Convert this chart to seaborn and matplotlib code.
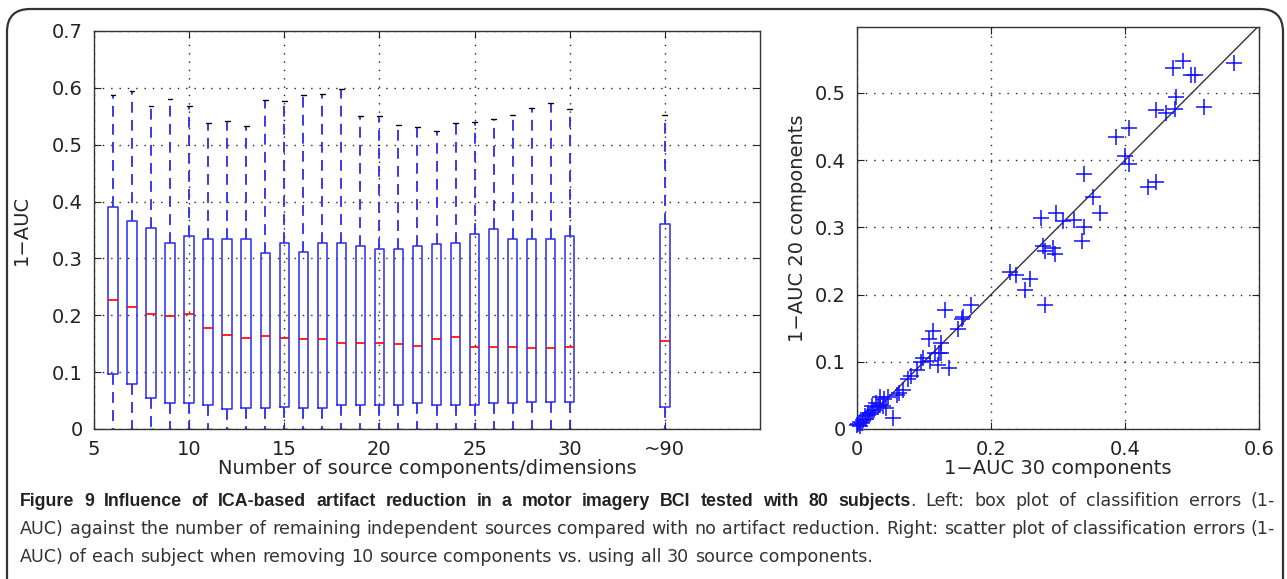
import matplotlib
matplotlib.use('Agg')
import matplotlib.pyplot as plt
import pandas as pd
import seaborn as sns
from matplotlib.patches import FancyBboxPatch

# Left: 1-AUC box stats per number of kept source components ("~90" = no artifact reduction)
components = ['6', '7', '8', '9', '10', '11', '12', '13', '14', '15', '16', '17', '18',
              '19', '20', '21', '22', '23', '24', '25', '26', '27', '28', '29', '30', '~90']
whisk_lo = [0.0] * 26
q1 = [0.096, 0.080, 0.054, 0.046, 0.045, 0.042, 0.036, 0.037, 0.037, 0.038, 0.037, 0.037, 0.042,
      0.042, 0.042, 0.042, 0.045, 0.042, 0.042, 0.042, 0.046, 0.046, 0.047, 0.047, 0.047, 0.038]
med = [0.227, 0.214, 0.203, 0.199, 0.203, 0.178, 0.166, 0.160, 0.164, 0.160, 0.158, 0.158, 0.151,
       0.151, 0.151, 0.149, 0.146, 0.158, 0.161, 0.145, 0.145, 0.145, 0.142, 0.142, 0.145, 0.154]
q3 = [0.391, 0.366, 0.353, 0.327, 0.339, 0.334, 0.334, 0.335, 0.309, 0.327, 0.312, 0.327, 0.327,
      0.321, 0.316, 0.316, 0.322, 0.325, 0.327, 0.343, 0.352, 0.335, 0.335, 0.335, 0.339, 0.360]
whisk_hi = [0.587, 0.594, 0.568, 0.580, 0.568, 0.538, 0.542, 0.533, 0.579, 0.577, 0.587, 0.589, 0.598,
            0.551, 0.550, 0.535, 0.532, 0.525, 0.538, 0.540, 0.546, 0.553, 0.565, 0.574, 0.562, 0.552]

# Right: per-subject 1-AUC, 30 components vs 20 components
auc30 = [0.000, 0.002, 0.004, 0.004, 0.007, 0.009, 0.012, 0.013, 0.016, 0.016, 0.019, 0.022,
         0.022, 0.026, 0.029, 0.031, 0.034, 0.034, 0.039, 0.041, 0.043, 0.046, 0.053, 0.059,
         0.062, 0.068, 0.076, 0.080, 0.089, 0.095, 0.099, 0.109, 0.107, 0.114, 0.117, 0.121,
         0.122, 0.125, 0.126, 0.137, 0.132, 0.150, 0.156, 0.158, 0.170, 0.229, 0.237, 0.250,
         0.258, 0.280, 0.278, 0.280, 0.293, 0.296, 0.275, 0.297, 0.308, 0.324, 0.339, 0.336,
         0.362, 0.352, 0.339, 0.386, 0.406, 0.400, 0.406, 0.434, 0.447, 0.446, 0.461, 0.474,
         0.476, 0.518, 0.471, 0.486, 0.498, 0.504, 0.562]
auc20 = [0.006, 0.008, 0.005, 0.011, 0.009, 0.014, 0.019, 0.015, 0.021, 0.024, 0.022, 0.026,
         0.034, 0.029, 0.039, 0.032, 0.036, 0.048, 0.034, 0.044, 0.031, 0.047, 0.017, 0.051,
         0.054, 0.058, 0.075, 0.079, 0.088, 0.100, 0.105, 0.101, 0.134, 0.146, 0.113, 0.095,
         0.113, 0.128, 0.113, 0.091, 0.177, 0.149, 0.163, 0.167, 0.185, 0.234, 0.229, 0.207,
         0.223, 0.185, 0.272, 0.265, 0.269, 0.261, 0.314, 0.322, 0.309, 0.311, 0.300, 0.280,
         0.321, 0.345, 0.379, 0.434, 0.448, 0.406, 0.394, 0.360, 0.367, 0.474, 0.470, 0.476,
         0.494, 0.479, 0.537, 0.548, 0.526, 0.527, 0.544]

caption_bold = ('Figure 9 Influence of ICA-based artifact reduction in a motor imagery BCI '
                'tested with 80 subjects')
caption_lines = ['. Left: box plot of classifition errors (1-',
                 'AUC) against the number of remaining independent sources compared with no '
                 'artifact reduction. Right: scatter plot of classification errors (1-',
                 'AUC) of each subject when removing 10 source components vs. using all 30 '
                 'source components.']

sns.set_style('ticks', {'xtick.direction': 'in', 'ytick.direction': 'in'})
plt.rcParams['font.family'] = ['DejaVu Sans']

BLUE = '#2a2aea'
GRID = dict(color='#222222', linestyle=(0, (1, 5)), linewidth=1.0)

fig = plt.figure(figsize=(12.87, 5.79), dpi=100)

# outer rounded frame
frame = FancyBboxPatch((7 / 1287, -0.2), 1276 / 1287, 1.2 - 9 / 579,
                       boxstyle='round,pad=0,rounding_size=0.018', transform=fig.transFigure,
                       facecolor='none', edgecolor='#333333', linewidth=1.6, mutation_aspect=2.2)
fig.patches.append(frame)


def style_axes(ax):
    for s in ax.spines.values():
        s.set_color('#333333')
        s.set_linewidth(1.0)
    ax.tick_params(direction='in', length=5, width=0.8, top=True, right=True,
                   labelsize=14, pad=8, colors='#222222')
    ax.set_axisbelow(True)


# ---- left: box plot ----
ax1 = fig.add_axes([94 / 1287, 150 / 579, 666 / 1287, 398 / 579])
positions = [int(c) if c.isdigit() else 35 for c in components]
stats = [dict(whislo=a, q1=b, med=c, q3=d, whishi=e, fliers=[])
         for a, b, c, d, e in zip(whisk_lo, q1, med, q3, whisk_hi)]
ax1.bxp(stats, positions=positions, widths=0.5, capwidths=0.25, showfliers=False,
        manage_ticks=False,
        boxprops=dict(color=BLUE, linewidth=1.1),
        whiskerprops=dict(color=BLUE, linewidth=1.3, linestyle=(0, (6, 4))),
        capprops=dict(color='black', linewidth=1.0),
        medianprops=dict(color='red', linewidth=1.2))
ax1.set_xlim(5, 40)
ax1.set_ylim(0, 0.7)
ax1.set_xticks([5, 10, 15, 20, 25, 30, 35])
ax1.set_xticklabels(['5', '10', '15', '20', '25', '30', '~90'])
ax1.set_yticks([0, 0.1, 0.2, 0.3, 0.4, 0.5, 0.6, 0.7])
ax1.set_yticklabels(['0', '0.1', '0.2', '0.3', '0.4', '0.5', '0.6', '0.7'])
ax1.grid(True, **GRID)
style_axes(ax1)
ax1.set_xlabel('Number of source components/dimensions', fontsize=14, labelpad=0)
ax1.set_ylabel('1\u2212AUC', fontsize=14, labelpad=15)

# ---- right: scatter ----
ax2 = fig.add_axes([857 / 1287, 150 / 579, 402 / 1287, 402 / 579])
df = pd.DataFrame({'auc30': auc30, 'auc20': auc20})
ax2.axline((0, 0), slope=1, color='#333333', linewidth=1.0)
sns.scatterplot(data=df, x='auc30', y='auc20', ax=ax2, marker='+', color='#1010ff',
                s=120, linewidth=1.1, clip_on=False, zorder=3)
ax2.set_xlim(0, 0.6)
ax2.set_ylim(0, 0.598)
ax2.set_xticks([0, 0.2, 0.4, 0.6])
ax2.set_xticklabels(['0', '0.2', '0.4', '0.6'])
ax2.set_yticks([0, 0.1, 0.2, 0.3, 0.4, 0.5])
ax2.set_yticklabels(['0', '0.1', '0.2', '0.3', '0.4', '0.5'])
ax2.grid(True, **GRID)
style_axes(ax2)
ax2.set_xlabel('1\u2212AUC 30 components', fontsize=14, labelpad=0)
ax2.set_ylabel('1\u2212AUC 20 components', fontsize=14, labelpad=6)

# ---- caption (justified, like the journal layout) ----
B = dict(family=['Liberation Sans', 'DejaVu Sans'], fontweight='bold', fontsize=12.8,
         color='#222222', va='baseline')
R = dict(family=['DejaVu Sans'], fontsize=12.6, color='#333333', va='baseline')

rest1 = caption_lines[0].split()
line1 = [[(w, B)] for w in caption_bold.split()]
line1[-1].append((rest1[0], R))        # full stop right after the bold run
line1 += [[(w, R)] for w in rest1[1:]]
line2 = [[(w, R)] for w in caption_lines[1].split()]
line3 = [[(w, R)] for w in caption_lines[2].split()]

W = fig.bbox.width
probe = fig.text(0, 0, 'a a', **R)
probe2 = fig.text(0, 0, 'aa', **R)
placed = []
for y_px, groups, just in [(506, line1, True), (534, line2, True), (562, line3, False)]:
    texts = [[fig.text(0, 1 - y_px / 579, w, **kw) for w, kw in g] for g in groups]
    placed.append((groups, texts, just))
fig.canvas.draw()
space = probe.get_window_extent().width - probe2.get_window_extent().width
probe.remove()
probe2.remove()

x_left, x_right = 20, 1275
for groups, texts, just in placed:
    widths = [[t.get_window_extent().width for t in g] for g in texts]
    total = sum(sum(w) for w in widths)
    gap = (x_right - x_left - total) / (len(texts) - 1) if just else space
    gap = max(gap, 0.6 * space)
    x = x_left
    for g, ws in zip(texts, widths):
        for t, w in zip(g, ws):
            t.set_x(x / W)
            x += w
        x += gap

fig.savefig('out.png', dpi=100)
